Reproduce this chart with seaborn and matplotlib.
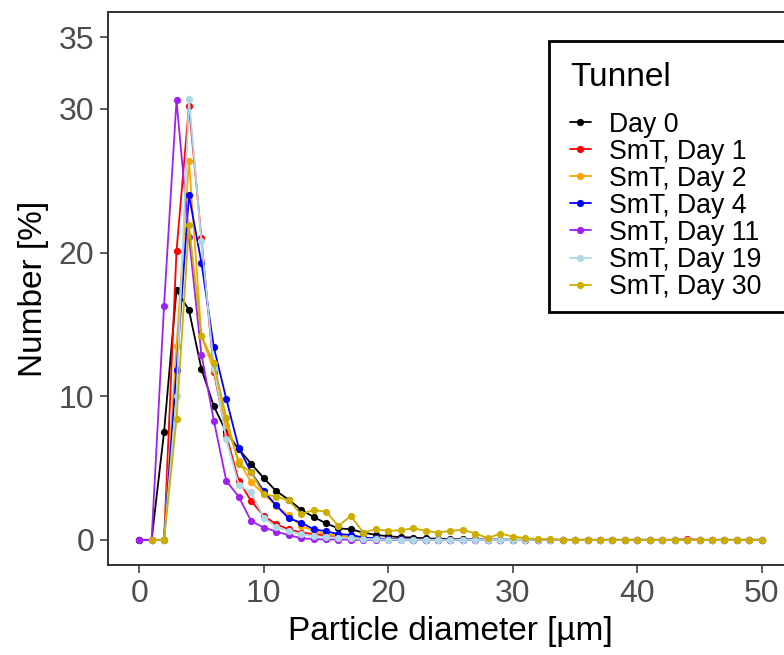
import numpy as np
import pandas as pd
import matplotlib
matplotlib.use("Agg")
import matplotlib.pyplot as plt
from matplotlib.patches import Rectangle
import seaborn as sns

# ---- data ----
diam = list(range(0, 51))

day0 = [0, 0, 7.5, 17.4, 16.0, 11.9, 9.3, 7.5, 6.3, 5.3, 4.3, 3.4, 2.8, 2.1, 1.6, 1.15, 0.8, 0.74,
        0.5, 0.35, 0.25, 0.19, 0.16, 0.1, 0.08, 0.05, 0.04, 0.03, 0.02, 0.02, 0.01] + [0] * 20
smt1 = [0, 0, 0, 20.1, 30.2, 21.0, 11.7, 7.3, 4.1, 2.7, 1.67, 1.09, 0.74, 0.51, 0.4, 0.3, 0.2,
        0.15, 0.1, 0.08, 0.05, 0.03, 0.02, 0.01] + [0] * 20 + [0.05] + [0] * 6
smt2 = [0, 0, 0, 13.5, 26.4, 14.2, 11.8, 8.0, 5.5, 4.0, 3.2, 2.37, 1.72, 0.97, 0.63, 0.4, 0.3,
        0.2, 0.15, 0.1, 0.06, 0.04, 0.02, 0.01] + [0] * 27
smt4 = [0, 0, 0, 11.8, 24.0, 19.3, 13.4, 9.8, 6.4, 4.7, 3.4, 2.4, 1.5, 1.2, 0.74, 0.6, 0.4, 0.35,
        0.16, 0.1, 0.05, 0.03, 0.02, 0.01] + [0] * 27
smt11 = [0, 0, 16.3, 30.6, 21.1, 12.9, 8.3, 4.1, 3.0, 1.3, 0.86, 0.58, 0.33, 0.12, 0.05, 0.03,
         0.02, 0.01] + [0] * 33
smt19 = [np.nan, 0, 0, 10.0, 30.7, 20.8, 12.0, 7.0, 3.8, 3.3, 1.55, 0.9, 0.63, 0.4, 0.25, 0.2,
         0.15, 0.1, 0.06, 0.04, 0.02, 0.01] + [0] * 29
smt30 = [np.nan, 0, 0, 8.4, 21.9, 14.2, 12.3, 8.5, 5.3, 4.7, 3.2, 3.0, 2.76, 1.8, 2.07, 1.97, 0.97,
         1.67, 0.51, 0.74, 0.63, 0.67, 0.81, 0.63, 0.51, 0.63, 0.7, 0.44, 0.12, 0.44, 0.23, 0.12,
         0.05, 0.05] + [0] * 17

labels = ["Day 0", "SmT, Day 1", "SmT, Day 2", "SmT, Day 4", "SmT, Day 11", "SmT, Day 19", "SmT, Day 30"]
series = [day0, smt1, smt2, smt4, smt11, smt19, smt30]
colors = ["#000000", "#FF0000", "#FFA500", "#0000FF", "#A020F0", "#ADD8E6", "#CDAD00"]

x_ticks = [0, 10, 20, 30, 40, 50]
y_ticks = [0, 10, 20, 30, 35]

rows = []
for lab, vals in zip(labels, series):
    for d, v in zip(diam, vals):
        if not np.isnan(v):
            rows.append({"Particle diameter": d, "Number": v, "Tunnel": lab})
df = pd.DataFrame(rows)

# ---- style ----
sns.set_style("white")
plt.rcParams["font.family"] = ["Liberation Sans", "DejaVu Sans"]
plt.rcParams["text.color"] = "black"

fig = plt.figure(figsize=(7.84, 6.55), dpi=100)
ax = fig.add_axes([108 / 784, 90 / 655, 685 / 784, 553 / 655])

sns.lineplot(data=df, x="Particle diameter", y="Number", hue="Tunnel",
             hue_order=labels, palette=dict(zip(labels, colors)),
             marker="o", markersize=5.2, markeredgewidth=0, linewidth=1.3,
             ax=ax, legend=True)

ax.set_xlim(-2.5, 52.5)
ax.set_ylim(-1.75, 36.75)
ax.set_xticks(x_ticks)
ax.set_yticks(y_ticks)
ax.tick_params(axis="both", which="major", direction="out", length=6, width=1.1,
               color="#333333", labelsize=23, labelcolor="#4D4D4D", pad=4,
               bottom=True, left=True)
for s in ax.spines.values():
    s.set_color("#333333")
    s.set_linewidth(1.4)
ax.set_xlabel("Particle diameter [µm]", fontsize=24, color="black", labelpad=5)
ax.set_ylabel("Number [%]", fontsize=24, color="black", labelpad=7)
ax.grid(False)

handles, labs = ax.get_legend_handles_labels()
ax.get_legend().remove()

# legend box (extends past the right edge, as in the reference)
box = Rectangle((549 / 784, 1 - 312 / 655), (820 - 549) / 784, (312 - 41) / 655,
                transform=fig.transFigure, facecolor="white", edgecolor="black",
                linewidth=2.0, zorder=3)
fig.patches.append(box)

leg = fig.legend(handles, labs, title="Tunnel", loc="upper left",
                 bbox_to_anchor=(549 / 784, 1 - 41 / 655), bbox_transform=fig.transFigure,
                 fontsize=19.2, title_fontsize=24, frameon=False,
                 handlelength=0.8, handletextpad=0.68,
                 labelspacing=0.04, borderpad=0.28, alignment="left",
                 labelcolor="black")
leg.get_title().set_color("black")
leg.set_zorder(5)
leg._legend_box.sep = 13.5

fig.savefig("out.png", dpi=100)
